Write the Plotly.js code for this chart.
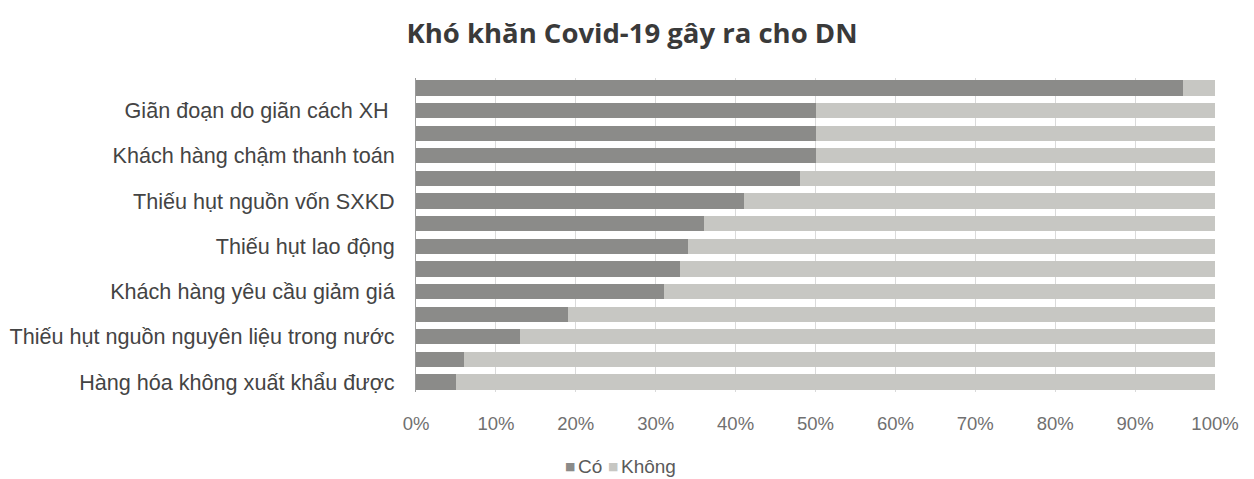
<!DOCTYPE html>
<html>
<head>
<meta charset="utf-8">
<script src="https://cdn.plot.ly/plotly-3.0.1.min.js"></script>
<style>html,body{margin:0;padding:0;background:#fff;}#chart{width:1254px;height:479px;}</style>
</head>
<body>
<div id="chart"></div>
<script>
// rows bottom to top (14 bars, every second one labelled as in the source)
var rowIndex = [0,1,2,3,4,5,6,7,8,9,10,11,12,13];
var labelIndex = [0,2,4,6,8,10,12];
var labels = [
  "Hàng hóa không xuất khẩu được",
  "Thiếu hụt nguồn nguyên liệu trong nước",
  "Khách hàng yêu cầu giảm giá",
  "Thiếu hụt lao động",
  "Thiếu hụt nguồn vốn SXKD",
  "Khách hàng chậm thanh toán",
  "Giãn đoạn do giãn cách XH "
];
var seriesNames = ["Có", "Không"];
var seriesColors = ["#8b8b89", "#c7c7c3"];
var co    = [5, 6, 13, 19, 31, 33, 34, 36, 41, 48, 50, 50, 50, 96];
var khong = [95, 94, 87, 81, 69, 67, 66, 64, 59, 52, 50, 50, 50, 4];
var xTickVals = [0,0.1,0.2,0.3,0.4,0.5,0.6,0.7,0.8,0.9,1];

function share(a, b){ return a.map(function(v,i){ return v/(a[i]+b[i]); }); }

var traces = [
  {type:'bar', orientation:'h', name:seriesNames[0], y:rowIndex, x:share(co,khong),
   marker:{color:seriesColors[0]}, hoverinfo:'x+name'},
  {type:'bar', orientation:'h', name:seriesNames[1], y:rowIndex, x:share(khong,co),
   marker:{color:seriesColors[1]}, hoverinfo:'x+name'}
];

var legFont = {family:'Liberation Sans, Arial, sans-serif', size:19, color:'#5a5a5a'};
var legY = (392-466)/314;
var annotations = [
  {xref:'paper', yref:'paper', x:(570-416)/799, y:legY, xanchor:'center', yanchor:'middle',
   text:'■', showarrow:false, font:{family:'DejaVu Sans, sans-serif', size:11, color:seriesColors[0]}},
  {xref:'paper', yref:'paper', x:(576-416)/799, y:legY, xanchor:'left', yanchor:'middle',
   text:seriesNames[0], showarrow:false, font:legFont},
  {xref:'paper', yref:'paper', x:(613-416)/799, y:legY, xanchor:'center', yanchor:'middle',
   text:'■', showarrow:false, font:{family:'DejaVu Sans, sans-serif', size:11, color:seriesColors[1]}},
  {xref:'paper', yref:'paper', x:(619-416)/799, y:legY, xanchor:'left', yanchor:'middle',
   text:seriesNames[1], showarrow:false, font:legFont}
];

var layout = {
  width:1254, height:479,
  paper_bgcolor:'#ffffff', plot_bgcolor:'#ffffff',
  barmode:'stack', bargap:0.33,
  margin:{l:416, r:39, t:78, b:87, autoexpand:false},
  title:{text:'<b>Khó khăn Covid-19 gây ra cho DN</b>', xref:'container', x:632/1254, xanchor:'center',
         yref:'container', y:1-33/479, yanchor:'middle',
         font:{family:'Open Sans, Noto Sans, sans-serif', size:27.5, color:'#3a3a3a'}},
  xaxis:{range:[0,1], tickvals:xTickVals, tickformat:'.0%', showgrid:true, gridcolor:'#dadada', gridwidth:1,
         zeroline:false, showline:false, ticks:'', ticklabelstandoff:18, automargin:false,
         tickfont:{family:'Liberation Sans Narrow, Liberation Sans, sans-serif', size:18.5, color:'#707070'}},
  yaxis:{range:[-0.44,13.44], tickvals:labelIndex, ticktext:labels, showgrid:false, zeroline:false,
         showline:true, linecolor:'#9a9a9a', linewidth:1, ticks:'', ticklabelstandoff:16, automargin:false,
         tickfont:{family:'Liberation Sans, Arial, sans-serif', size:21.6, color:'#444444'}},
  showlegend:false,
  annotations:annotations
};

Plotly.newPlot('chart', traces, layout, {displayModeBar:false, staticPlot:true});
</script>
</body>
</html>
